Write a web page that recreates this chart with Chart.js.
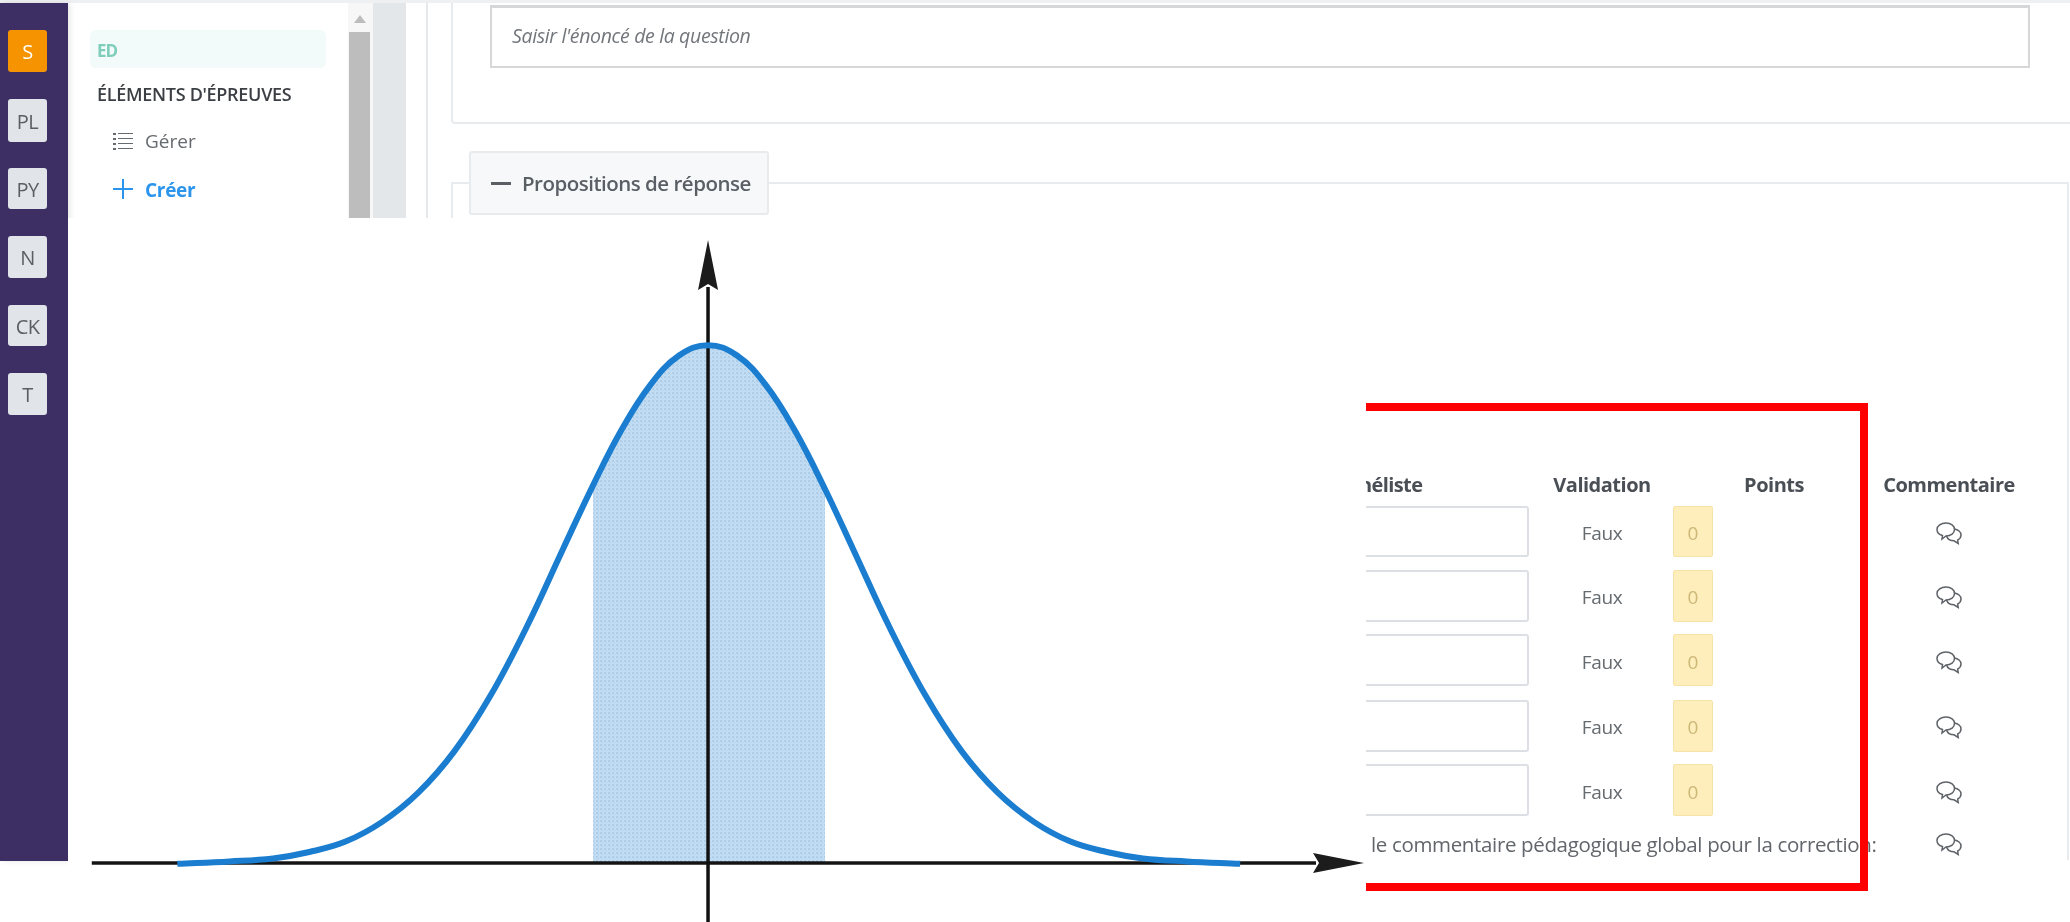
<!DOCTYPE html>
<html lang="fr"><head><meta charset="utf-8">
<script src="https://cdn.jsdelivr.net/npm/chart.js@4"></script>
<style>
html,body{margin:0;padding:0;background:#fff;width:2070px;height:922px;overflow:hidden;font-family:"Open Sans",sans-serif}
#ui{position:absolute;left:0;top:0;width:2070px;height:922px;overflow:hidden;z-index:0}
#ui div,#ui svg{position:absolute;box-sizing:border-box}
.t{white-space:nowrap;line-height:1;color:#5a5f66}
#c{position:absolute;left:0;top:0;z-index:1}
</style></head><body>
<div id="ui"></div>
<canvas id="c" width="2070" height="922"></canvas>
<script>
// Curve: x in standard deviations, y as density
const curveX = [-3.66,-3.3,-3.0,-2.75,-2.5,-2.25,-2.0,-1.75,-1.5,-1.25,-1.0,-0.793,-0.6,-0.4,-0.2,0,0.2,0.4,0.6,0.807,1.0,1.25,1.5,1.75,2.0,2.25,2.5,2.75,3.0,3.3,3.67];
const curveY = [-0.0006,0.0012,0.0035,0.0085,0.0165,0.0315,0.054,0.086,0.129,0.182,0.242,0.291,0.333,0.368,0.391,0.399,0.391,0.368,0.333,0.288,0.242,0.182,0.129,0.086,0.054,0.0315,0.0165,0.0085,0.0035,0.0012,-0.0006];
const shadeX = [-0.793,-0.6,-0.4,-0.2,0,0.2,0.4,0.6,0.807];
const shadeY = [0.291,0.333,0.368,0.391,0.399,0.391,0.368,0.333,0.288];
const xAxisX = [-4.25,4.193];
const xAxisY = [0,0];
const yAxisX = [0,0];
const yAxisY = [-0.046,0.4438];
const sideLabels = ["S","PL","PY","N","CK","T"];
const tableHeaders = ["Validation","Points","Commentaire"];
const rowValidation = ["Faux","Faux","Faux","Faux","Faux"];
const rowPoints = ["0","0","0","0","0"];

// ---- surrounding screenshot furniture (plain HTML) ----
const ui=document.getElementById('ui');
function box(x,y,w,h,css,parent){const d=document.createElement('div');d.style.cssText=`left:${x}px;top:${y}px;width:${w}px;height:${h}px;${css||''}`;(parent||ui).appendChild(d);return d;}
function txt(s,x,y,size,css,anchor,parent){const d=document.createElement('div');d.className='t';d.textContent=s;
  const tx=anchor==='c'?'-50%':'0';
  d.style.cssText=`left:${x}px;top:${y}px;font-size:${size}px;transform:translate(${tx},-50%);${css||''}`;(parent||ui).appendChild(d);return d;}
const soft='filter:blur(.35px);';
box(0,0,2070,3,'background:#eef0f1');
box(0,3,68,858,'background:#3d2e63;box-shadow:2px 0 6px rgba(0,0,0,.10)');
const sideBoxes=[[30,42],[99,43],[168,41],[236,42],[305,41],[373,42]];
sideLabels.forEach((s,i)=>{const [y,h]=sideBoxes[i];
  box(8,y,39,h,`border-radius:3px;background:${i===0?'#f59300':'#e1e4e8'}`);
  txt(s,27.5,y+h/2+1,20,`color:${i===0?'#fff':'#5a5f66'};letter-spacing:-.6px;${soft}`,'c');});
box(90,30,236,38,'background:#f3fbfa;border-radius:6px');
txt('ED',97,50,17,'color:#7fcdbb;font-weight:700;letter-spacing:-1px;'+soft);
txt('ÉLÉMENTS D\'ÉPREUVES',97,94,18,'color:#3b3f44;font-weight:600;letter-spacing:-.3px;'+soft);
[134,139,144,149].forEach(y=>{box(113,y-1,3,1.5,'background:#666b70');box(118,y-1,15,1.2,'background:#666b70');});
txt('Gérer',145,141,19,'color:#666b70;'+soft);
box(113,188,20,2,'background:#2b95ee');box(122,179,2,20,'background:#2b95ee');
txt('Créer',145,190,19,'color:#2b95ee;font-weight:700;letter-spacing:-.3px;'+soft);
box(348,3,25,215,'background:#f7f7f7');box(349,32,21,186,'background:#bdbdbd');
box(354,15,12,8,'background:#bdbdbd;clip-path:polygon(50% 0,100% 100%,0 100%)');
box(373,3,33,215,'background:#e3e7ea');
box(426,3,2,215,'background:#e6e9ec');
box(451,3,1625,121,'border:2px solid #e8ebee;border-top:none;border-radius:0 0 4px 4px');
box(490,5,1540,63,'background:#fff;border:2px solid #d5d7d9;border-top-width:3px');
txt('Saisir l\'énoncé de la question',512,36,19.500,'font-style:italic;color:#72767b;letter-spacing:-.35px;'+soft);
box(451,182,18,2,'background:#e8ebee');box(451,182,2,36,'background:#e8ebee');
box(769,182,1300,2,'background:#e8ebee');box(2067,182,2,678,'background:#e8ebee');
box(469,151,300,64,'background:#f6f8fa;border:2px solid #e8ebee;border-radius:3px');
box(491,182,20,3,'background:#5a5f66');
txt('Propositions de réponse',522,183,20.500,'color:#5a5f66;font-weight:600;letter-spacing:-.5px;'+soft);

// table (clipped at the pasted picture's edge)
const clip=box(1366,411,700,472,'overflow:hidden');
const oy=411,ox=1366;
txt('héliste',0,485-oy,20,'color:#4a4f55;font-weight:700;letter-spacing:-.6px;left:-7px;'+soft,null,clip);
const hdrX=[1602,1774,1949];
tableHeaders.forEach((s,i)=>txt(s,hdrX[i]-ox,485-oy,20,'color:#4a4f55;font-weight:700;letter-spacing:-.5px;'+soft,'c',clip));
const rowTop=[506,570,634,700,764], rowH=[51,52,52,52,52];
const rowMid=[533,597,662,727,792];
const icon=(cx,cy)=>{const ns='http://www.w3.org/2000/svg';const s=document.createElementNS(ns,'svg');
  s.setAttribute('width','28');s.setAttribute('height','24');s.setAttribute('viewBox','0 0 28 24');
  s.style.cssText=`left:${cx-14}px;top:${cy-12}px`;
  s.innerHTML='<path d="M11 2c5 0 8.500 3 8.500 6.500S16 15 11 15l-4 3 .5-3.500C4 13.500 2 11.500 2 8.500 2 5 6 2 11 2z" fill="#fff" stroke="#5f6368" stroke-width="1.500"/><path d="M19.500 8c3.500 .5 6.500 3 6.500 6 0 2.300-1.300 4-3.300 5l.5 3.500-4.200-2.700c-3.500 0-6.500-1.800-7.500-4.800" fill="none" stroke="#5f6368" stroke-width="1.500"/>';
  clip.appendChild(s);};
rowTop.forEach((y,i)=>{const h=rowH[i],my=rowMid[i];
  box(-4,y-oy,1529-ox+4,h,'background:#fff;border:2px solid #dcdfe4;border-radius:3px',clip);
  txt(rowValidation[i],1602-ox,my-oy,19,'color:#666b70;letter-spacing:-.4px;'+soft,'c',clip);
  box(1673-ox,y-oy,40,h,'background:#fdeebb;border:1px solid #f7e3a8;border-radius:2px',clip);
  txt(rowPoints[i],1693-ox,my-oy,19,'color:#cdb878;'+soft,'c',clip);
  icon(1949-ox,my-oy);
});
txt('le commentaire pédagogique global pour la correction:',1371-ox,844-oy,20.500,'color:#62666c;letter-spacing:-.35px;'+soft,null,clip);
icon(1949-ox,844-oy);
// red frame: three sides only
box(1366,403,502,8,'background:#ff0000');box(1366,883,502,8,'background:#ff0000');box(1860,403,8,488,'background:#ff0000');

// pasted figure covers the page furniture between the sidebar and the table
box(68,218,1298,704,'background:#fff');

// ---- the chart ----
const pat=document.createElement('canvas');pat.width=4;pat.height=4;
const pc=pat.getContext('2d');pc.fillStyle='#c2ddf3';pc.fillRect(0,0,4,4);pc.fillStyle='#aecde6';pc.fillRect(0,0,2,2);pc.fillRect(2,2,1,1);
const ctx0=document.getElementById('c').getContext('2d');
const dotted=ctx0.createPattern(pat,'repeat');
const toPts=(xs,ys)=>xs.map((x,i)=>({x,y:ys[i]}));
const heads={id:'heads',afterDatasetsDraw(ch){
  const {ctx,scales:{x,y}}=ch;
  const ax=x.getPixelForValue(xAxisX[1]), ay=y.getPixelForValue(0);
  const bx=x.getPixelForValue(0), by=y.getPixelForValue(yAxisY[1]);
  ctx.save();ctx.fillStyle='#1c1c1c';
  ctx.beginPath();ctx.moveTo(ax+48,ay);ctx.lineTo(ax-3,ay-10);ctx.lineTo(ax+3,ay);ctx.lineTo(ax-3,ay+10);ctx.closePath();ctx.fill();
  ctx.beginPath();ctx.moveTo(bx,by-47);ctx.lineTo(bx+10,by+3);ctx.lineTo(bx,by-3);ctx.lineTo(bx-10,by+3);ctx.closePath();ctx.fill();
  ctx.restore();}};
new Chart(document.getElementById('c'),{
  type:'line',
  data:{datasets:[
    {label:'curve',data:toPts(curveX,curveY),borderColor:'#1a7dd0',borderWidth:6,pointRadius:0,tension:0.4,fill:false,order:1},
    {label:'y axis',data:toPts(yAxisX,yAxisY),borderColor:'#111',borderWidth:3.5,pointRadius:0,fill:false,order:2},
    {label:'x axis',data:toPts(xAxisX,xAxisY),borderColor:'#141414',borderWidth:3.5,pointRadius:0,fill:false,order:3},
    {label:'shaded',data:toPts(shadeX,shadeY),borderWidth:0,borderColor:'transparent',backgroundColor:dotted,pointRadius:0,tension:0.4,fill:{value:0},order:4}
  ]},
  options:{responsive:false,animation:false,
    layout:{padding:0},
    plugins:{legend:{display:false},tooltip:{enabled:false},title:{display:false}},
    scales:{
      x:{type:'linear',min:-4.883,max:9.393,display:false},
      y:{type:'linear',min:-0.04545,max:0.6649,display:false}
    }},
  plugins:[heads]
});
</script>
</body></html>
